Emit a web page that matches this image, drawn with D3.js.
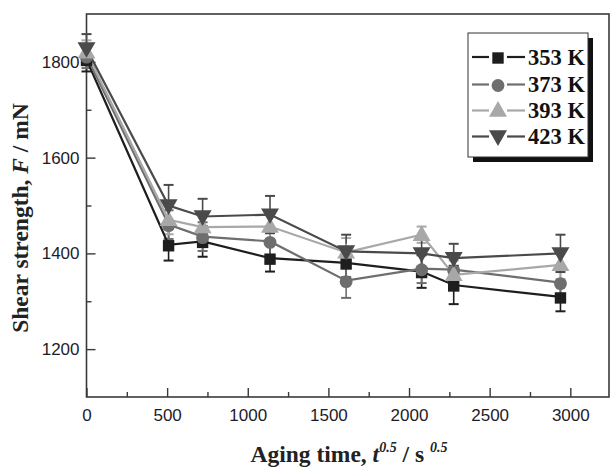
<!DOCTYPE html>
<html>
<head>
<meta charset="utf-8">
<script src="https://cdn.jsdelivr.net/npm/d3@7"></script>
<style>
  html, body { margin: 0; padding: 0; background: #fff; }
  svg { display: block; }
</style>
</head>
<body>
<svg id="chart" width="615" height="472"></svg>
<script>
// ---- data ----
const times = [0, 509, 720, 1138, 1610, 2078, 2277, 2939];
const seriesNames = ["353 K", "373 K", "393 K", "423 K"];
const v353 = [1805, 1418, 1425, 1390, 1380, 1362, 1334, 1309];
const e353 = [25, 33, 32, 28, 30, 34, 40, 30];
const v373 = [1812, 1460, 1435, 1425, 1343, 1368, 1366, 1339];
const e373 = [25, 30, 30, 30, 36, 30, 30, 30];
const v393 = [1820, 1470, 1455, 1456, 1402, 1439, 1355, 1376];
const e393 = [25, 30, 30, 30, 30, 17, 30, 30];
const v423 = [1828, 1500, 1477, 1481, 1404, 1400, 1390, 1400];
const e423 = [30, 43, 37, 39, 35, 30, 30, 39];
const xTicks = [0, 500, 1000, 1500, 2000, 2500, 3000];
const yTicks = [1200, 1400, 1600, 1800];

// ---- styling ----
const colors = ["#1e1e1e", "#6e6e6e", "#a8a8a8", "#4a4a4a"];
const symbols = [d3.symbolSquare, d3.symbolCircle, d3.symbolTriangle, d3.symbolTriangle];
const symSizes = [130, 130, 140, 140];
const rotations = [0, 0, 0, 180];
const values = [v353, v373, v393, v423];
const errors = [e353, e373, e393, e423];

const svg = d3.select("#chart");
const L = 86.5, T = 14, R = 609, B = 397;
const x = d3.scaleLinear().domain([0, 3240]).range([L, R]);
const y = d3.scaleLinear().domain([1100, 1900]).range([B, T]);

const axisColor = "#3a3a3a";
const tickFont = "'Liberation Sans', Arial, sans-serif";
const serif = "'Liberation Serif', 'Times New Roman', serif";

// frame
svg.append("rect").attr("x", L).attr("y", T).attr("width", R - L).attr("height", B - T)
  .attr("fill", "none").attr("stroke", axisColor).attr("stroke-width", 1.6);

// x axis ticks (inward)
const xAxis = d3.axisBottom(x).tickValues(xTicks).tickSize(-9).tickPadding(12).tickFormat(d3.format("d"));
const gx = svg.append("g").attr("transform", `translate(0,${B})`).call(xAxis);
const xMinor = d3.range(250, 3240, 500);
svg.append("g").attr("transform", `translate(0,${B})`)
  .call(d3.axisBottom(x).tickValues(xMinor).tickSize(-5).tickFormat(""));

// y axis ticks (inward)
const yAxis = d3.axisLeft(y).tickValues(yTicks).tickSize(-9).tickPadding(7).tickFormat(d3.format("d"));
const gy = svg.append("g").attr("transform", `translate(${L},0)`).call(yAxis);
svg.append("g").attr("transform", `translate(${L},0)`)
  .call(d3.axisLeft(y).tickValues([1300, 1500, 1700]).tickSize(-5).tickFormat(""));

svg.selectAll(".domain").remove();
svg.selectAll(".tick line").attr("stroke", axisColor).attr("stroke-width", 1.4);
svg.selectAll(".tick text").attr("font-family", tickFont).attr("font-size", 17)
  .attr("fill", "#1c1c28");

// error bars
values.forEach((vals, si) => {
  const g = svg.append("g").attr("stroke", colors[si]).attr("stroke-width", 1.6);
  vals.forEach((v, i) => {
    const e = errors[si][i];
    const cx = x(times[i]);
    g.append("line").attr("x1", cx).attr("x2", cx).attr("y1", y(v - e)).attr("y2", y(v + e));
    g.append("line").attr("x1", cx - 5).attr("x2", cx + 5).attr("y1", y(v - e)).attr("y2", y(v - e)).attr("stroke-width", 2);
    g.append("line").attr("x1", cx - 5).attr("x2", cx + 5).attr("y1", y(v + e)).attr("y2", y(v + e)).attr("stroke-width", 2);
  });
});

// lines
const line = d3.line().x((d, i) => x(times[i])).y(d => y(d));
values.forEach((vals, si) => {
  svg.append("path").datum(vals).attr("d", line)
    .attr("fill", "none").attr("stroke", colors[si]).attr("stroke-width", 2.2);
});

// markers
values.forEach((vals, si) => {
  const sym = d3.symbol().type(symbols[si]).size(symSizes[si]);
  svg.append("g").selectAll("path").data(vals).join("path")
    .attr("d", sym)
    .attr("transform", (d, i) => `translate(${x(times[i])},${y(d) + (rotations[si] ? -1 : 1)}) rotate(${rotations[si]})`)
    .attr("fill", colors[si]);
});

// legend
const lg = svg.append("g");
const lx = 468, ly = 33, lw = 120, lh = 124;
lg.append("rect").attr("x", lx + 5).attr("y", ly + 5).attr("width", lw).attr("height", lh).attr("fill", "#111");
lg.append("rect").attr("x", lx).attr("y", ly).attr("width", lw).attr("height", lh)
  .attr("fill", "#fff").attr("stroke", "#333").attr("stroke-width", 1);
const legY = [57, 84.5, 110.5, 136.5];
seriesNames.forEach((name, si) => {
  const yy = legY[si];
  lg.append("line").attr("x1", 472).attr("x2", 489).attr("y1", yy).attr("y2", yy)
    .attr("stroke", colors[si]).attr("stroke-width", 2.2);
  lg.append("line").attr("x1", 507).attr("x2", 525).attr("y1", yy).attr("y2", yy)
    .attr("stroke", colors[si]).attr("stroke-width", 2.2);
  lg.append("path").attr("d", d3.symbol().type(symbols[si]).size(symSizes[si])())
    .attr("transform", `translate(498,${yy + (rotations[si] ? -1 : 1)}) rotate(${rotations[si]})`)
    .attr("fill", colors[si]);
  lg.append("text").attr("x", 528).attr("y", yy + 7.5).text(name)
    .attr("font-family", serif).attr("font-weight", "bold").attr("font-size", 22.5).attr("fill", "#111");
});

// axis titles
const xt = svg.append("text").attr("x", 349).attr("y", 462).attr("text-anchor", "middle")
  .attr("font-family", serif).attr("font-weight", "bold").attr("font-size", 23.5).attr("fill", "#222");
xt.append("tspan").text("Aging time, ");
xt.append("tspan").text("t").attr("font-style", "italic");
xt.append("tspan").text("0.5").attr("font-style", "italic").attr("font-size", 14).attr("dy", -10);
xt.append("tspan").text(" / s ").attr("dy", 10);
xt.append("tspan").text("0.5").attr("font-style", "italic").attr("font-size", 14).attr("dy", -10);

const yt = svg.append("text").attr("transform", "translate(28,218) rotate(-90)").attr("text-anchor", "middle")
  .attr("font-family", serif).attr("font-weight", "bold").attr("font-size", 23.5).attr("fill", "#222");
yt.append("tspan").text("Shear strength, ");
yt.append("tspan").text("F").attr("font-style", "italic");
yt.append("tspan").text(" / mN");
</script>
</body>
</html>
